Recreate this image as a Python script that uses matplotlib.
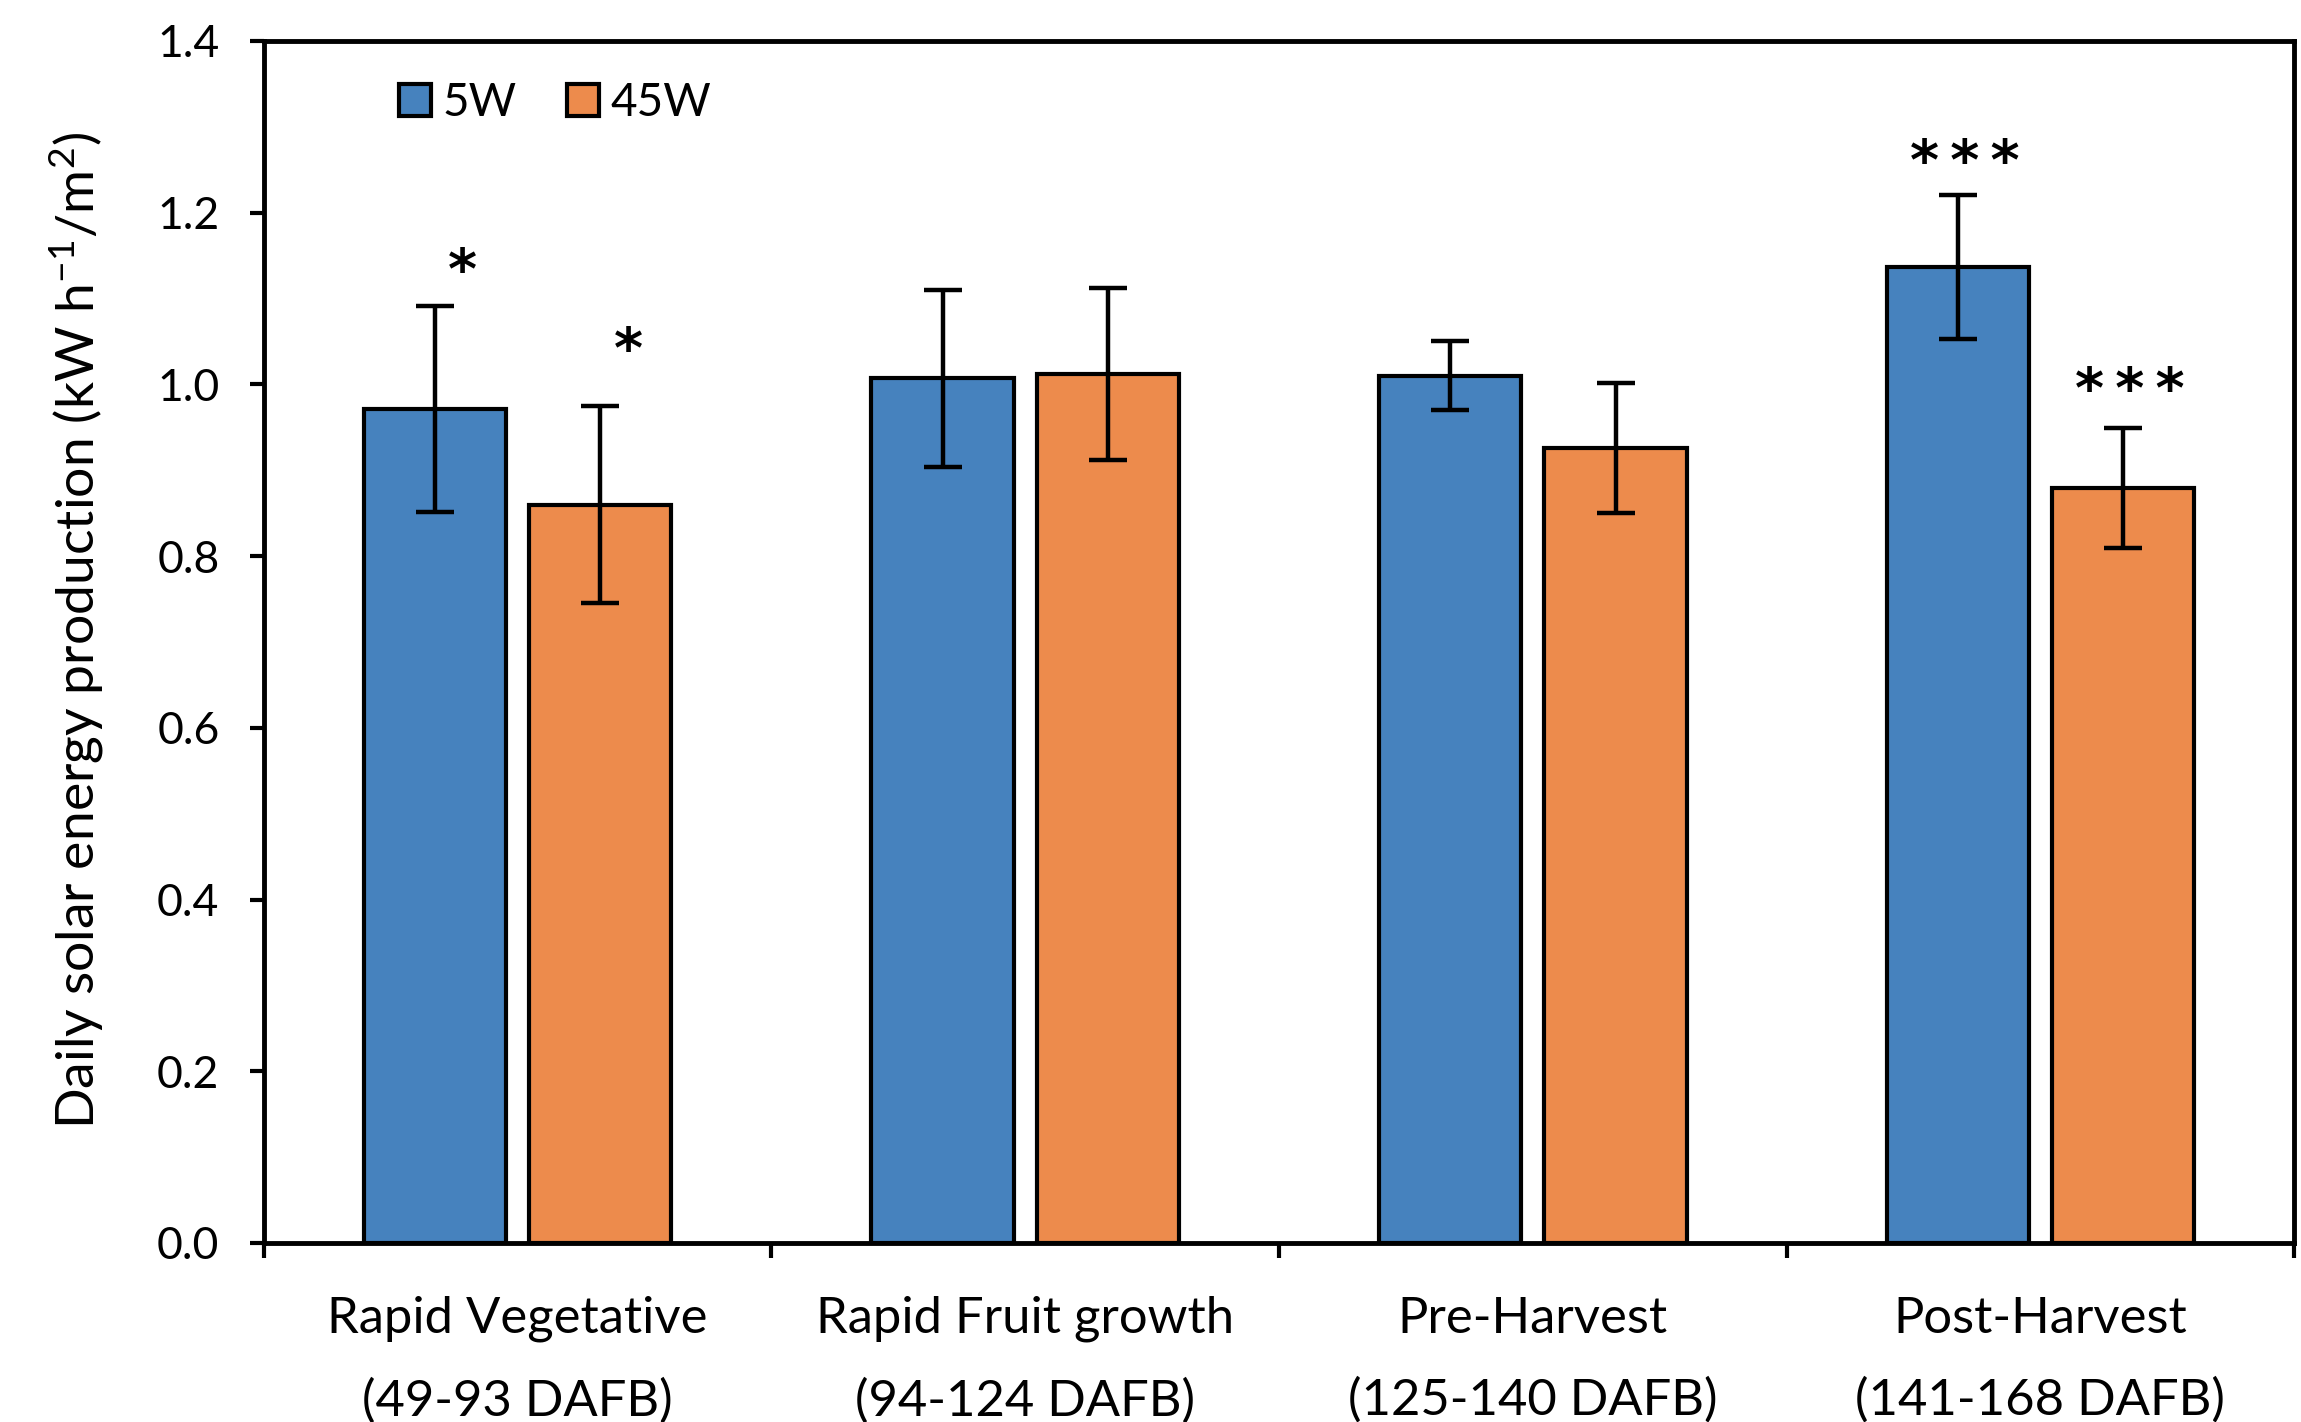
import matplotlib
matplotlib.use("Agg")
import matplotlib.pyplot as plt
import numpy as np

stages = ["Rapid Vegetative\n(49-93 DAFB)", "Rapid Fruit growth\n(94-124 DAFB)",
          "Pre-Harvest\n(125-140 DAFB)", "Post-Harvest\n(141-168 DAFB)"]
mean_5w = [0.971, 1.007, 1.010, 1.137]
err_5w = [0.120, 0.103, 0.040, 0.084]
mean_45w = [0.860, 1.012, 0.926, 0.879]
err_45w = [0.115, 0.100, 0.076, 0.070]
sig_5w = ["*", "", "", "***"]
sig_45w = ["*", "", "", "***"]

plt.rcParams["font.family"] = ["Lato", "DejaVu Sans"]
plt.rcParams["mathtext.fontset"] = "custom"
plt.rcParams["mathtext.rm"] = "Lato"
plt.rcParams["mathtext.it"] = "Lato:italic"
plt.rcParams["mathtext.bf"] = "Lato:bold"

blue = "#4682BE"
orange = "#ED8B4C"

fig = plt.figure(figsize=(23.01, 14.22), dpi=100)
ax = fig.add_axes([0.1147, 0.1259, 0.8823, 0.8453])

x = np.arange(len(stages))
w = 0.28
off = 0.163
ekw = dict(elinewidth=3.2, capsize=14, capthick=3.2, ecolor="black")
ax.bar(x - off, mean_5w, w, yerr=err_5w, color=blue, edgecolor="black",
       linewidth=3, label="5W", error_kw=ekw, zorder=2)
ax.bar(x + off, mean_45w, w, yerr=err_45w, color=orange, edgecolor="black",
       linewidth=3, label="45W", error_kw=ekw, zorder=2)

# significance marks above the error bars, shifted (dx, dy) points
shift_5w = [(20, 13), None, None, (5, 11)]
shift_45w = [(20, 28), None, None, (5, 15)]
for i in range(len(stages)):
    for xs, m, e, s, sh in [(x[i] - off, mean_5w[i], err_5w[i], sig_5w[i], shift_5w[i]),
                            (x[i] + off, mean_45w[i], err_45w[i], sig_45w[i], shift_45w[i])]:
        if not s:
            continue
        ax.annotate("\u2009".join(s), xy=(xs, m + e), xytext=sh,
                    textcoords="offset points", ha="center", va="baseline",
                    fontsize=40, fontweight="bold", fontfamily="DejaVu Sans")

ax.set_xlim(-0.5, len(stages) - 0.5)
ax.set_ylim(0, 1.4)
yt = np.arange(0, 1.41, 0.2)
ax.set_yticks(yt)
ax.set_yticklabels([f"{v:.1f}" for v in yt], fontsize=32)

# boundary ticks below the axis, labels centred on each group
ax.set_xticks(np.arange(-0.5, len(stages), 1.0))
ax.set_xticklabels([])
ax.set_xticks(x, minor=True)
ax.set_xticklabels(stages, minor=True, fontsize=36.5, linespacing=1.95)
ax.tick_params(axis="x", which="major", direction="out", length=11, width=3)
ax.tick_params(axis="x", which="minor", length=0, pad=38)
ax.tick_params(axis="y", direction="out", length=10, width=3, pad=22)

for sp in ax.spines.values():
    sp.set_linewidth(3.5)

ax.set_ylabel(r"Daily solar energy production (kW h$^{\mathrm{-1}}$/m$^{\mathrm{2}}$)",
              fontsize=38.5)
ax.yaxis.set_label_coords(-0.078, 0.51)

ax.legend(loc="upper left", bbox_to_anchor=(0.046, 1.0), frameon=False,
          ncol=2, fontsize=33, handlelength=0.7, handleheight=0.7,
          handletextpad=0.25, columnspacing=1.1)

fig.savefig("out.png", dpi=100)
